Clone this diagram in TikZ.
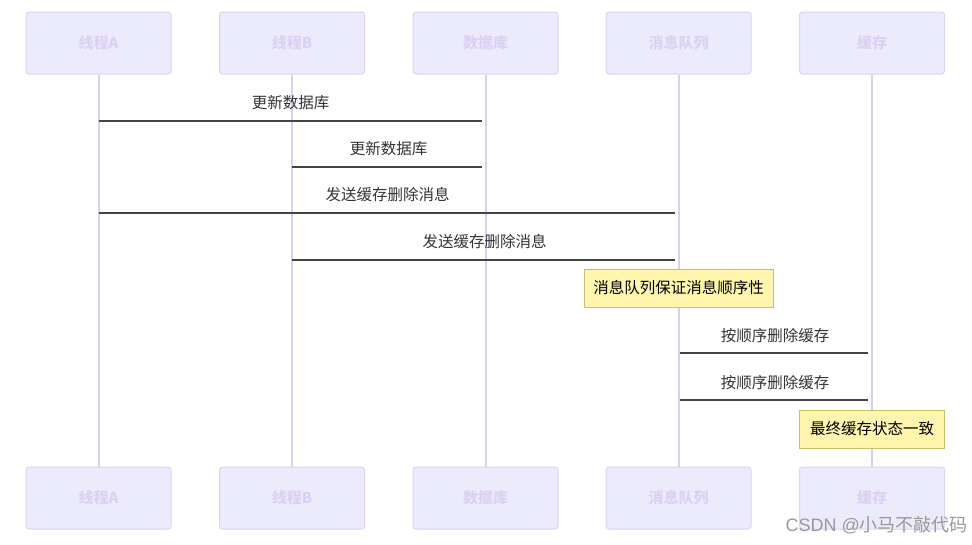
\documentclass[tikz,border=0pt]{standalone}
\usepackage{fontspec}
\setmainfont{Noto Sans CJK SC}
\newfontfamily\wmfont{Liberation Sans}
\usetikzlibrary{calc}
\definecolor{actfill}{HTML}{ECEBFC}
\definecolor{actdraw}{HTML}{DCD3F5}
\definecolor{acttext}{HTML}{DCD0F3}
\definecolor{lifecol}{HTML}{D9CFF4}
\definecolor{notefill}{HTML}{FFF5AD}
\definecolor{notedraw}{HTML}{C8BF6A}
\definecolor{msgcol}{HTML}{444444}
\definecolor{txtcol}{HTML}{333333}
\tikzset{
  actor/.style={draw=actdraw, fill=actfill, rounded corners=3pt, line width=1pt,
    minimum width=145pt, minimum height=62pt, inner sep=0pt,
    text=acttext, font=\fontsize{15}{17}\selectfont\bfseries},
  lifeline/.style={draw=lifecol, line width=2pt},
  msg/.style={draw=msgcol, line width=1.4pt},
  msglabel/.style={text=txtcol, font=\fontsize{15.5}{18}\selectfont, inner sep=0pt},
  notebox/.style={draw=notedraw, fill=notefill, line width=1pt, inner sep=0pt,
    minimum height=38pt, text=black, font=\fontsize{15.5}{18}\selectfont},
}
\begin{document}
\begin{tikzpicture}[x=1pt,y=-1pt]
\useasboundingbox (0,0) rectangle (972,544);
% top actors
\node[actor] (A)  at (98.5,43) {线程A};
\node[actor] (B)  at (292,43) {线程B};
\node[actor] (D)  at (485.5,43) {数据库};
\node[actor] (Q)  at (678.5,43) {消息队列};
\node[actor] (C)  at (872,43) {缓存};
% bottom actors
\node[actor] (A2) at (98.5,498) {线程A};
\node[actor] (B2) at (292,498) {线程B};
\node[actor] (D2) at (485.5,498) {数据库};
\node[actor] (Q2) at (678.5,498) {消息队列};
\node[actor] (C2) at (872,498) {缓存};
% lifelines
\foreach \t/\b in {A/A2,B/B2,D/D2,Q/Q2,C/C2}{
  \draw[lifeline] (\t.south) -- (\b.north);
}
% message rows
\coordinate (m1) at (0,121);
\coordinate (m2) at (0,167);
\coordinate (m3) at (0,213);
\coordinate (m4) at (0,260);
\coordinate (m5) at (0,353);
\coordinate (m6) at (0,400);
% notes
\node[notebox, minimum width=189pt] (n1) at (678.5,288) {消息队列保证消息顺序性};
\node[notebox, minimum width=145pt] (n2) at (872,429) {最终缓存状态一致};
% messages
\draw[msg] (A.south |- m1) -- ([xshift=-4pt]D.south |- m1);
\node[msglabel] (l1) at (290.5,103) {更新数据库};
\draw[msg] (B.south |- m2) -- ([xshift=-4pt]D.south |- m2);
\node[msglabel] (l2) at (388.5,149) {更新数据库};
\draw[msg] (A.south |- m3) -- ([xshift=-4pt]Q.south |- m3);
\node[msglabel] (l3) at (387.5,195) {发送缓存删除消息};
\draw[msg] (B.south |- m4) -- ([xshift=-4pt]Q.south |- m4);
\node[msglabel] (l4) at (484.5,242) {发送缓存删除消息};
\draw[msg] ([xshift=1pt]Q.south |- m5) -- ([xshift=-4pt]C.south |- m5);
\node[msglabel] (l5) at (775,336) {按顺序删除缓存};
\draw[msg] ([xshift=1pt]Q.south |- m6) -- ([xshift=-4pt]C.south |- m6);
\node[msglabel] (l6) at (775,383) {按顺序删除缓存};
% watermark
\node[text=black!40, font=\fontsize{18}{20}\selectfont, inner sep=0pt, anchor=east] (wm) at (968,525) {{\wmfont CSDN @}小马不敲代码};
\end{tikzpicture}
\end{document}
